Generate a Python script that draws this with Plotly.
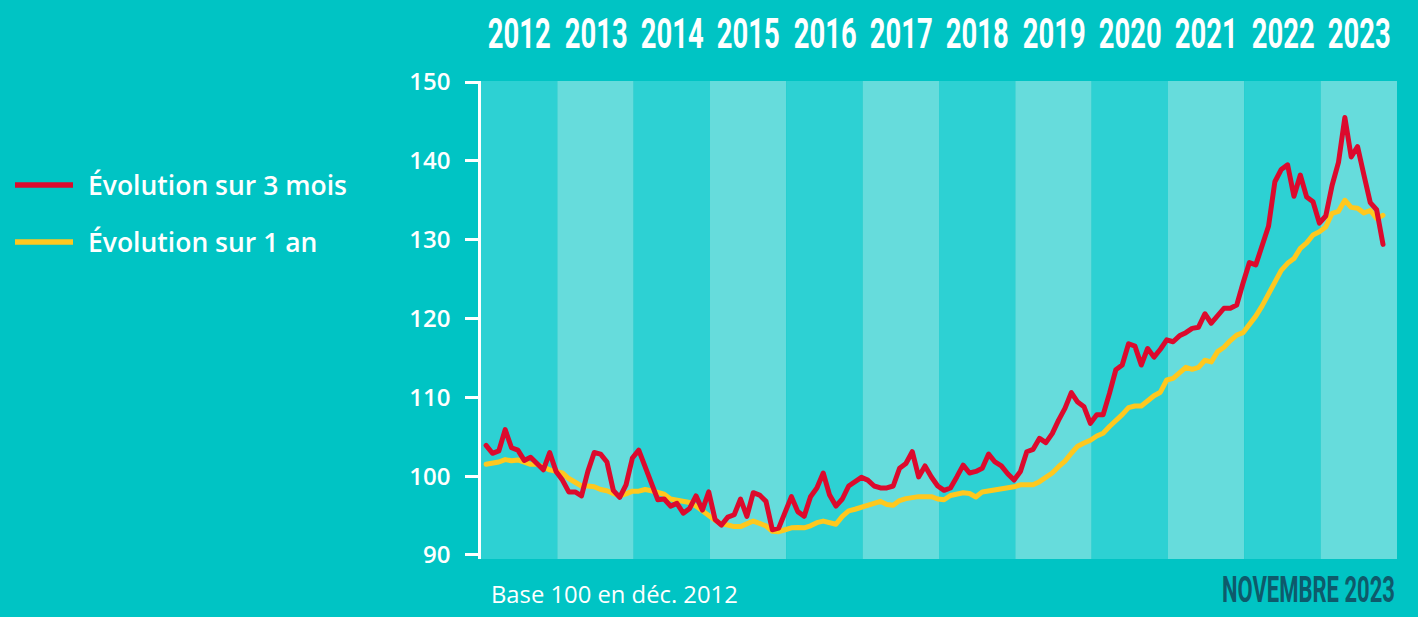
import plotly.graph_objects as go

# ---------------- data ----------------
years = [2012, 2013, 2014, 2015, 2016, 2017, 2018, 2019, 2020, 2021, 2022, 2023]
start_year = 2012
month_offset = 0.8  # position of a monthly point inside its month

evol_3_mois = [
    103.9, 102.9, 103.2, 105.9, 103.6, 103.3, 102.0, 102.4, 101.6, 100.8, 103.0, 100.6,
    99.5, 98.0, 98.0, 97.5, 100.6, 103.0, 102.8, 101.8, 98.2, 97.3, 98.9, 102.3,
    103.3, 101.2, 99.0, 97.0, 97.1, 96.2, 96.55, 95.3, 95.9, 97.5, 95.7, 98.0,
    94.5, 93.8, 94.8, 95.1, 97.1, 94.9, 97.9, 97.6, 96.8, 93.2, 93.4, 95.5,
    97.4, 95.5, 94.9, 97.4, 98.5, 100.4, 97.6, 96.2, 97.1, 98.75, 99.3, 99.85,
    99.5, 98.75, 98.5, 98.5, 98.75, 101.0, 101.6, 103.1, 99.9, 101.3, 99.9, 98.75,
    98.2, 98.5, 99.9, 101.4, 100.4, 100.6, 101.0, 102.8, 101.8, 101.3, 100.3, 99.5,
    100.6, 103.1, 103.4, 104.8, 104.25, 105.4, 107.1, 108.6, 110.6, 109.4, 108.8, 106.7,
    107.8, 107.8, 110.5, 113.5, 114.1, 116.8, 116.5, 114.1, 116.2, 115.1, 116.1, 117.3,
    117.05, 117.8, 118.2, 118.75, 118.9, 120.6, 119.4, 120.3, 121.3, 121.3, 121.7, 124.5,
    127.1, 126.8, 129.1, 131.7, 137.35, 138.9, 139.5, 135.5, 138.2, 135.4, 134.8, 132.1,
    133.0, 136.9, 139.8, 145.5, 140.5, 141.8, 138.2, 134.7, 133.8, 129.4,
]

evol_1_an = [
    101.5, 101.6, 101.8, 102.1, 101.95, 102.05, 101.7, 101.5, 101.5, 101.1, 100.8, 100.6,
    100.4, 99.7, 99.2, 98.75, 98.75, 98.65, 98.3, 98.15, 97.8, 97.5, 97.75, 98.1,
    98.1, 98.3, 98.15, 97.9, 97.7, 97.1, 96.9, 96.8, 96.65, 96.2, 95.5, 95.0,
    94.4, 93.95, 93.8, 93.6, 93.6, 94.0, 94.3, 94.0, 93.7, 93.0, 92.95, 93.2,
    93.45, 93.5, 93.45, 93.7, 94.1, 94.3, 94.15, 93.9, 94.9, 95.6, 95.8, 96.0,
    96.2, 96.55, 96.8, 96.4, 96.3, 96.9, 97.15, 97.35, 97.4, 97.4, 97.4, 97.1,
    97.0, 97.55, 97.75, 97.9, 97.8, 97.35, 98.0, 98.1, 98.25, 98.35, 98.4, 98.65,
    98.9, 98.95, 98.9, 99.3, 99.8, 100.4, 101.2, 101.9, 102.9, 103.8, 104.2, 104.55,
    105.1, 105.45, 106.3, 107.0, 107.8, 108.7, 108.9, 108.9, 109.6, 110.2, 110.65, 112.2,
    112.4, 113.05, 113.8, 113.55, 113.8, 114.7, 114.5, 115.8, 116.35, 117.2, 117.9, 118.2,
    119.2, 120.3, 121.6, 123.0, 124.7, 126.1, 127.0, 127.6, 128.9, 129.6, 130.6, 131.0,
    131.6, 133.35, 133.6, 135.0, 134.1, 134.0, 133.4, 133.7, 132.7, 133.1,
]

y_ticks = [90, 100, 110, 120, 130, 140, 150]
series_names = ["Évolution sur 3 mois", "Évolution sur 1 an"]
note_text = "Base 100 en déc. 2012"
date_text = "NOVEMBRE 2023"

# ---------------- style ----------------
BG = "#00C4C4"
BAND_DARK = "#2DD1D3"
BAND_LIGHT = "#66DCDC"
RED = "#DC0A2D"
YELLOW = "#FFC81E"
WHITE = "#FFFFFF"
DARK_TEXT = "#0E5A6B"
BODY = "Open Sans, Noto Sans, sans-serif"
DISPLAY = "Roboto, Open Sans, sans-serif"

x_months = [start_year + (i + month_offset) / 12 for i in range(len(evol_3_mois))]

fig = go.Figure()

fig.add_trace(go.Scatter(x=x_months, y=evol_1_an, mode="lines", name=series_names[1],
                         line=dict(color=YELLOW, width=5), hoverinfo="skip"))
fig.add_trace(go.Scatter(x=x_months, y=evol_3_mois, mode="lines", name=series_names[0],
                         line=dict(color=RED, width=5), hoverinfo="skip"))

shapes = []
annotations = []
for j, yr in enumerate(years):
    shapes.append(dict(type="rect", xref="x", yref="paper", x0=yr, x1=yr + 1, y0=0, y1=1,
                       fillcolor=BAND_DARK if j % 2 == 0 else BAND_LIGHT,
                       line=dict(width=0), layer="below"))
    annotations.append(dict(xref="x", yref="paper", x=yr + 0.5, y=1.1,
                            text=str(yr), showarrow=False,
                            font=dict(family=DISPLAY, size=42, color=WHITE, weight=700),
                            xanchor="center", yanchor="middle"))

# legend (drawn manually, left of plot)
W = 916.0
H = 478.0
def px_x(px):
    return (px - 481) / W
def px_y(py):
    return 1 - (py - 81) / H

for name, col, py in [(series_names[0], RED, 185), (series_names[1], YELLOW, 242)]:
    shapes.append(dict(type="line", xref="paper", yref="paper",
                       x0=px_x(15), x1=px_x(73), y0=px_y(py), y1=px_y(py),
                       line=dict(color=col, width=5.5)))
    annotations.append(dict(xref="paper", yref="paper", x=px_x(86), y=px_y(py),
                            text=name, showarrow=False, xanchor="left", yanchor="middle",
                            font=dict(family=BODY, size=26.5, color=WHITE, weight=600)))

annotations.append(dict(xref="paper", yref="paper", x=px_x(489), y=px_y(594),
                        text=note_text, showarrow=False, xanchor="left", yanchor="middle",
                        font=dict(family=BODY, size=23.8, color=WHITE)))
annotations.append(dict(xref="paper", yref="paper", x=px_x(1397), y=px_y(590),
                        text=date_text, showarrow=False, xanchor="right", yanchor="middle",
                        font=dict(family=DISPLAY, size=36, color=DARK_TEXT, weight=700)))

fig.update_layout(
    width=1418, height=617,
    margin=dict(l=481, r=21, t=81, b=58, pad=0),
    paper_bgcolor=BG, plot_bgcolor=BG,
    showlegend=False,
    shapes=shapes, annotations=annotations,
    xaxis=dict(range=[start_year, years[-1] + 1], showgrid=False, zeroline=False,
               showticklabels=False, ticks="", showline=False, fixedrange=True),
    yaxis=dict(range=[89.49, 150.13], tickvals=y_ticks, showgrid=False, zeroline=False,
               showline=True, linecolor=WHITE, linewidth=2.5, ticks="outside",
               ticklen=13, tickwidth=2.5, tickcolor=WHITE, ticklabelstandoff=10,
               tickfont=dict(family=BODY, size=24, color=WHITE, weight=600),
               fixedrange=True),
)

# Narrow display-font look: squeeze the year labels and the date text horizontally
post_js = """
document.body.style.margin = '0';
var gd = document.getElementById('{plot_id}');
gd.querySelectorAll('.annotation-text').forEach(function (t) {
  var s = t.textContent;
  var target = null, right = false;
  if (/^20\\d\\d$/.test(s)) { target = 63; }
  else if (s === '%s') { target = 173; right = true; }
  if (!target) return;
  var b = t.getBBox();
  var ax = right ? (b.x + b.width) : (b.x + b.width / 2);
  var k = target / b.width;
  var old = t.getAttribute('transform') || '';
  t.setAttribute('transform', old + ' translate(' + ax + ',0) scale(' + k + ',1) translate(' + (-ax) + ',0)');
});
gd.querySelectorAll('.scatterlayer path.js-line').forEach(function (p) {
  p.style.strokeLinejoin = 'round';
  p.style.strokeLinecap = 'round';
});
""" % date_text

fig.write_html("out.html", post_script=post_js, config={"displayModeBar": False})
